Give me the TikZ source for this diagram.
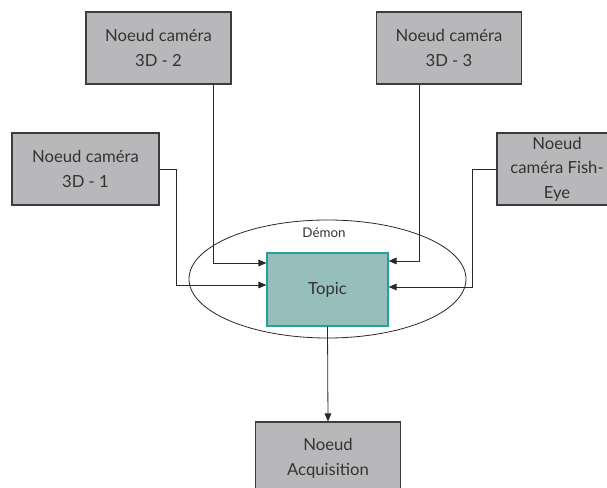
\documentclass[tikz,border=0pt]{standalone}
\usepackage{fontspec}
\setmainfont{Lato}
\usepackage{tikz}
\usetikzlibrary{arrows.meta}
\usetikzlibrary{shapes.geometric}

\definecolor{boxgray}{RGB}{184,184,186}
\definecolor{boxline}{RGB}{60,60,62}
\definecolor{topicfill}{RGB}{150,190,186}
\definecolor{topicline}{RGB}{40,160,150}
\definecolor{wire}{RGB}{40,40,40}

\begin{document}
\begin{tikzpicture}[x=0.75pt, y=-0.75pt,
  every node/.style={font=\fontsize{12.5}{18.5}\selectfont, text=black!80, align=center, inner sep=0pt},
  camnode/.style={rectangle, draw=boxline, fill=boxgray, line width=0.8pt, minimum width=108.75pt, minimum height=54pt},
  topicnode/.style={rectangle, draw=topicline, fill=topicfill, line width=0.9pt, minimum width=90.75pt, minimum height=54.75pt},
  flow/.style={draw=wire, line width=0.6pt, -{Triangle[length=6pt, width=5pt]}}]
        % Fix the page size
        \useasboundingbox (0,0) rectangle (607,488);

        % Draw the daemon ellipse and its label
        \node[ellipse, draw=wire, line width=0.6pt, minimum width=207.75pt, minimum height=88.5pt] (demon) at (327.5,279) {};
        \node[font=\fontsize{10}{12}\selectfont] (demonlbl) at (324,233) {Démon};

        % Draw the camera nodes
        \node[camnode] (cam2) at (158.5,48) {Noeud caméra\\3D - 2};
        \node[camnode] (cam3) at (449,48) {Noeud caméra\\3D - 3};
        \node[camnode, minimum width=110.25pt] (cam1) at (85.5,169) {Noeud caméra\\3D - 1};
        \node[camnode, minimum width=90pt] (fisheye) at (557,169) {Noeud\\caméra Fish-\\Eye};

        % Draw the topic and the acquisition node
        \node[topicnode] (topic) at (327.5,289.5) {Topic};
        \node[camnode] (acq) at (328,458) {Noeud\\Acquisition};

        % Draw the connectors
        \draw[flow] (cam1.east) -- ++(17,0) |- (topic.west |- 0,285);
        \draw[flow] (cam2.south -| 213,0) |- (topic.west |- 0,263);
        \draw[flow] (cam3.south -| 419,0) |- (topic.east |- 0,261);
        \draw[flow] (fisheye.west) -- ++(-24,0) |- (topic.east |- 0,287);
        \draw[flow] (topic.south) -- (acq.north);
      \end{tikzpicture}
\end{document}
